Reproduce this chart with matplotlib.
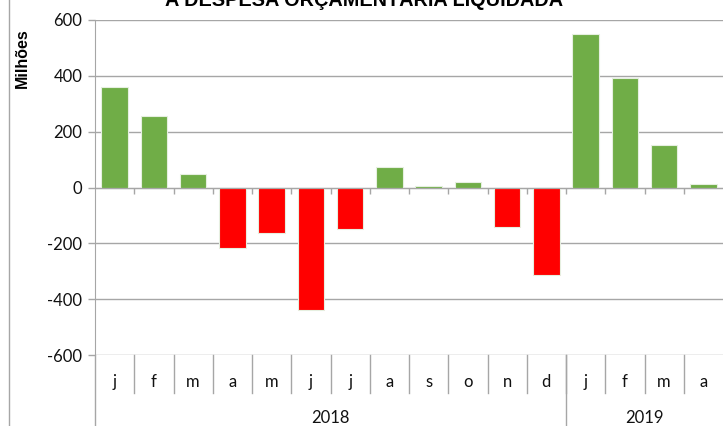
import matplotlib
matplotlib.use("Agg")
import matplotlib.pyplot as plt
import matplotlib.transforms as mtransforms
from matplotlib.lines import Line2D

months = ["j", "f", "m", "a", "m", "j", "j", "a", "s", "o", "n", "d", "j", "f", "m", "a"]
values = [360, 257, 48, -217, -164, -440, -147, 72, 5, 18, -140, -315, 549, 394, 152, 14]
years = ["2018", "2019"]
year_counts = [12, 4]
yticks = [-600, -400, -200, 0, 200, 400, 600]
title = "A DESPESA ORÇAMENTÁRIA LIQUIDADA"
ylabel = "Milhões"

GREEN = "#70AD47"
RED = "#FF0000"
GRID = "#A6A6A6"
TXT = "#111111"
narrow = ["Lato", "DejaVu Sans"]
arial = ["Liberation Sans", "DejaVu Sans"]

fig = plt.figure(figsize=(7.23, 4.26), dpi=100)
ax = fig.add_axes([95 / 723, 1 - 355 / 426, 1 - 95 / 723, (355 - 20) / 426])

x = list(range(len(values)))
colors = [GREEN if v >= 0 else RED for v in values]
ax.bar(x, values, width=0.67, color=colors, edgecolor="#e6efe0", linewidth=0.8, zorder=3)

ax.set_xlim(-0.5, len(values) - 0.5)
ax.set_ylim(-600, 600)
ax.set_yticks(yticks)
ax.set_yticklabels([str(t) for t in yticks], family=narrow, fontsize=12, color=TXT)
ax.yaxis.grid(True, color=GRID, linewidth=1.0, zorder=0)
ax.tick_params(axis="y", direction="out", length=5, width=1, color=GRID, pad=4)

for s in ["top", "right"]:
    ax.spines[s].set_visible(False)
ax.spines["left"].set_color(GRID)
ax.spines["bottom"].set_color(GRID)
ax.spines["bottom"].set_position(("data", 0))
ax.spines["bottom"].set_zorder(4)
ax.set_xticks([i + 0.5 for i in range(len(values) - 1)])
ax.set_xticklabels([])
ax.tick_params(axis="x", direction="out", length=4.3, width=1, color=GRID)

# category table below the plot
trans = mtransforms.blended_transform_factory(ax.transData, ax.transAxes)
row1 = 38 / 335
full = 75 / 335
for i in range(len(values) - 1):
    ax.add_line(Line2D([i + 0.5, i + 0.5], [0, -row1], transform=trans, color=GRID,
                       linewidth=1, clip_on=False))
for i, m in enumerate(months):
    ax.text(i, -27 / 335, m, transform=trans, ha="center", va="center",
            family=narrow, fontsize=12, color=TXT)

start = -0.5
for yr, n in zip(years, year_counts):
    end = start + n
    ax.text((start + end) / 2, -63 / 335, yr, transform=trans, ha="center", va="center",
            family=narrow, fontsize=12, color=TXT)
    ax.add_line(Line2D([start, start], [0, -full], transform=trans, color=GRID,
                       linewidth=1, clip_on=False))
    start = end

# chart frame left border
fig.add_artist(Line2D([9 / 723, 9 / 723], [0, 1], transform=fig.transFigure,
                      color=GRID, linewidth=1))

fig.text(364 / 723, 1 - 5.5 / 426, title, ha="center", va="baseline",
         family=arial, fontweight="bold", fontsize=14.3, color="#000000")
fig.text(22 / 723, 1 - 58 / 426, ylabel, ha="center", va="center", rotation=90,
         family=arial, fontweight="bold", fontsize=11.5, color="#000000")

fig.savefig("out.png", dpi=100)
